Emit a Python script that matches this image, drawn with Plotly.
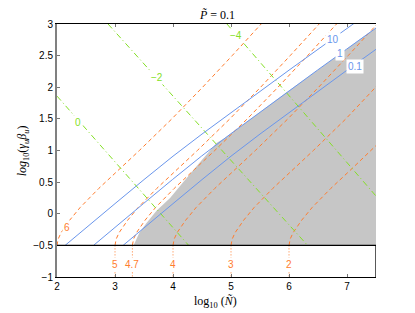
import plotly.graph_objects as go

# ---------------- data ----------------
x_ticks = [2, 3, 4, 5, 6, 7]
y_ticks = [-1, -0.5, 0, 0.5, 1, 1.5, 2, 2.5, 3]
y_tick_text = ["\u22121", "\u22120.5", "0", "0.5", "1", "1.5", "2", "2.5", "3"]

# shaded (gray) region outline
gray_u = [3.32, 3.42, 3.54, 3.72, 3.95, 4.15, 4.45, 4.75, 4.90, 4.99, 5.49, 5.99, 6.49, 6.99, 7.50, 7.50]
gray_v = [-0.5, -0.30, -0.15, 0.05, 0.25, 0.47, 0.80, 1.12, 1.20, 1.26, 1.60, 1.94, 2.27, 2.60, 2.94, -0.5]

# blue solid contours (labels 10, 1, 0.1)
blue_v = [-0.5, -0.22, 0.16, 0.54, 0.91, 1.26, 1.60, 1.94, 2.27, 2.60, 2.93, 3.26]
blue_10 = [2.14, 2.50, 3.00, 3.50, 4.00, 4.50, 5.00, 5.50, 6.00, 6.50, 7.00, 7.50]
blue_1 = [2.63, 2.99, 3.49, 3.99, 4.49, 4.99, 5.49, 5.99, 6.49, 6.99, 7.49, 7.99]
blue_01 = [3.14, 3.50, 4.00, 4.50, 5.00, 5.50, 6.00, 6.50, 7.00, 7.50, 8.00, 8.50]

# orange dashed contours (labels 6, 5, 4.7, 4, 3, 2)
orange_v = [-0.5, -0.45, -0.4, -0.3, -0.2, -0.1, 0.1, 0.4, 0.7, 1.0, 1.5, 2.0, 2.5, 3.0, 3.5]
orange_6 = [2.00, 2.005, 2.02, 2.07, 2.14, 2.22, 2.40, 2.72, 3.07, 3.42, 3.98, 4.51, 5.02, 5.52, 6.02]
orange_5 = [3.00, 3.005, 3.02, 3.07, 3.14, 3.22, 3.40, 3.72, 4.07, 4.42, 4.98, 5.51, 6.02, 6.52, 7.02]
orange_47 = [3.30, 3.305, 3.32, 3.37, 3.44, 3.52, 3.70, 4.02, 4.37, 4.72, 5.28, 5.81, 6.32, 6.82, 7.32]
orange_4 = [4.00, 4.005, 4.02, 4.07, 4.14, 4.22, 4.40, 4.72, 5.07, 5.42, 5.98, 6.51, 7.02, 7.52, 8.02]
orange_3 = [5.00, 5.005, 5.02, 5.07, 5.14, 5.22, 5.40, 5.72, 6.07, 6.42, 6.98, 7.51, 8.02, 8.52, 9.02]
orange_2 = [6.00, 6.005, 6.02, 6.07, 6.14, 6.22, 6.40, 6.72, 7.07, 7.42, 7.98, 8.51, 9.02, 9.52, 10.02]

# green dash-dot contours (labels 0, -2, -4)
green_0_u = [2.0, 3.0, 4.0, 4.27]
green_0_v = [1.86, 0.82, -0.22, -0.5]
green_m2_u = [2.88, 4.0, 5.0, 6.0, 6.32]
green_m2_v = [3.0, 1.86, 0.84, -0.18, -0.5]
green_m4_u = [4.93, 6.0, 7.0, 7.5]
green_m4_v = [3.0, 1.87, 0.81, 0.28]

# bottom panel markers
bottom_u = [3.0, 3.3, 4.0, 5.0, 6.0]
bottom_labels = ["5", "4.7", "4", "3", "2"]

# contour labels
blue_labels = [("10", 6.76, 2.76), ("1", 6.88, 2.54), ("0.1", 7.14, 2.33)]
green_labels = [("0", 2.37, 1.45), ("\u22122", 3.72, 2.15), ("\u22124", 5.09, 2.82)]
orange_side_labels = [("6", 2.17, -0.21)]

# ---------------- styles ----------------
GRAY = "#c6c6c6"
BLUE = "#6a96ec"
ORANGE = "#ff7d2e"
GREEN = "#84e026"
SANS = "Liberation Sans, Arial, sans-serif"
SERIF = "Liberation Serif, Times New Roman, serif"

fig = go.Figure()

fig.add_trace(go.Scatter(x=gray_u, y=gray_v, fill="toself", fillcolor=GRAY,
                         mode="none", hoverinfo="skip", showlegend=False))

for xs in [orange_6, orange_5, orange_47, orange_4, orange_3, orange_2]:
    fig.add_trace(go.Scatter(x=xs, y=orange_v, mode="lines",
                             line=dict(color=ORANGE, width=1, dash="4px,3px"),
                             hoverinfo="skip", showlegend=False))

for xs, ys in [(green_0_u, green_0_v), (green_m2_u, green_m2_v), (green_m4_u, green_m4_v)]:
    fig.add_trace(go.Scatter(x=xs, y=ys, mode="lines",
                             line=dict(color=GREEN, width=1, dash="6px,3px,1px,3px"),
                             hoverinfo="skip", showlegend=False))

for xs in [blue_10, blue_1, blue_01]:
    fig.add_trace(go.Scatter(x=xs, y=blue_v, mode="lines",
                             line=dict(color=BLUE, width=1),
                             hoverinfo="skip", showlegend=False))

for u in bottom_u:
    fig.add_trace(go.Scatter(x=[u, u], y=[-0.5, -1], mode="lines",
                             line=dict(color=ORANGE, width=1, dash="1px,2px"),
                             hoverinfo="skip", showlegend=False))

annotations = []
for txt, u, v in blue_labels:
    annotations.append(dict(x=u, y=v, text=txt, showarrow=False, bgcolor="white",
                            borderpad=1, font=dict(family=SANS, size=10, color=BLUE)))
for txt, u, v in green_labels:
    annotations.append(dict(x=u, y=v, text=txt, showarrow=False, bgcolor="white",
                            borderpad=1, font=dict(family=SANS, size=10, color=GREEN)))
for txt, u, v in orange_side_labels:
    annotations.append(dict(x=u, y=v, text=txt, showarrow=False, bgcolor="white",
                            borderpad=1, font=dict(family=SANS, size=10, color=ORANGE)))
for u, txt in zip(bottom_u, bottom_labels):
    annotations.append(dict(x=u, y=-0.8, text=txt, showarrow=False, bgcolor="white",
                            borderpad=1, font=dict(family=SANS, size=10, color=ORANGE)))

annotations.append(dict(xref="paper", yref="paper", x=0.5, y=1.036, text="<i>P\u0303</i> = 0.1",
                        showarrow=False, xanchor="center", yanchor="middle",
                        font=dict(family=SERIF, size=12, color="black")))
annotations.append(dict(xref="paper", yref="paper", x=0.497, y=-0.099,
                        text="log<sub>10</sub> (<i>N\u0303</i>)",
                        showarrow=False, xanchor="center", yanchor="middle",
                        font=dict(family=SERIF, size=12, color="black")))
annotations.append(dict(xref="paper", yref="paper", x=-0.107, y=0.5,
                        text="<i>log</i><sub>10</sub>(<i>\u03b3<sub>u</sub>\u03b2<sub>u</sub></i>)",
                        textangle=-90, showarrow=False, xanchor="center", yanchor="middle",
                        font=dict(family=SERIF, size=12, color="black")))

shapes = [
    dict(type="line", xref="x", yref="y", x0=2, x1=7.5, y0=-0.5, y1=-0.5,
         line=dict(color="black", width=1.3)),
    dict(type="line", xref="x", yref="y", x0=7.5, x1=7.5, y0=-1, y1=-0.5,
         line=dict(color="black", width=1.3)),
]

fig.update_layout(
    width=415, height=313,
    margin=dict(l=57, r=39, t=24, b=36),
    paper_bgcolor="white", plot_bgcolor="white",
    showlegend=False,
    annotations=annotations,
    shapes=shapes,
    xaxis=dict(range=[2, 7.5], tickvals=x_ticks, ticks="inside", ticklen=3,
               tickcolor="#777", showline=True, linecolor="black", linewidth=1.3,
               mirror="ticks", showgrid=False, zeroline=False,
               tickfont=dict(family=SANS, size=10, color="black")),
    yaxis=dict(range=[-1, 3], tickvals=y_ticks, ticktext=y_tick_text, ticks="inside",
               ticklen=3, tickcolor="#777", showline=True, linecolor="#808080",
               linewidth=2, mirror=False, showgrid=False, zeroline=False,
               tickfont=dict(family=SANS, size=10, color="black")),
)

fig.write_html("out.html",
               config={"displayModeBar": False, "staticPlot": True},
               post_script="document.body.style.margin='0';document.body.style.overflow='hidden';")
